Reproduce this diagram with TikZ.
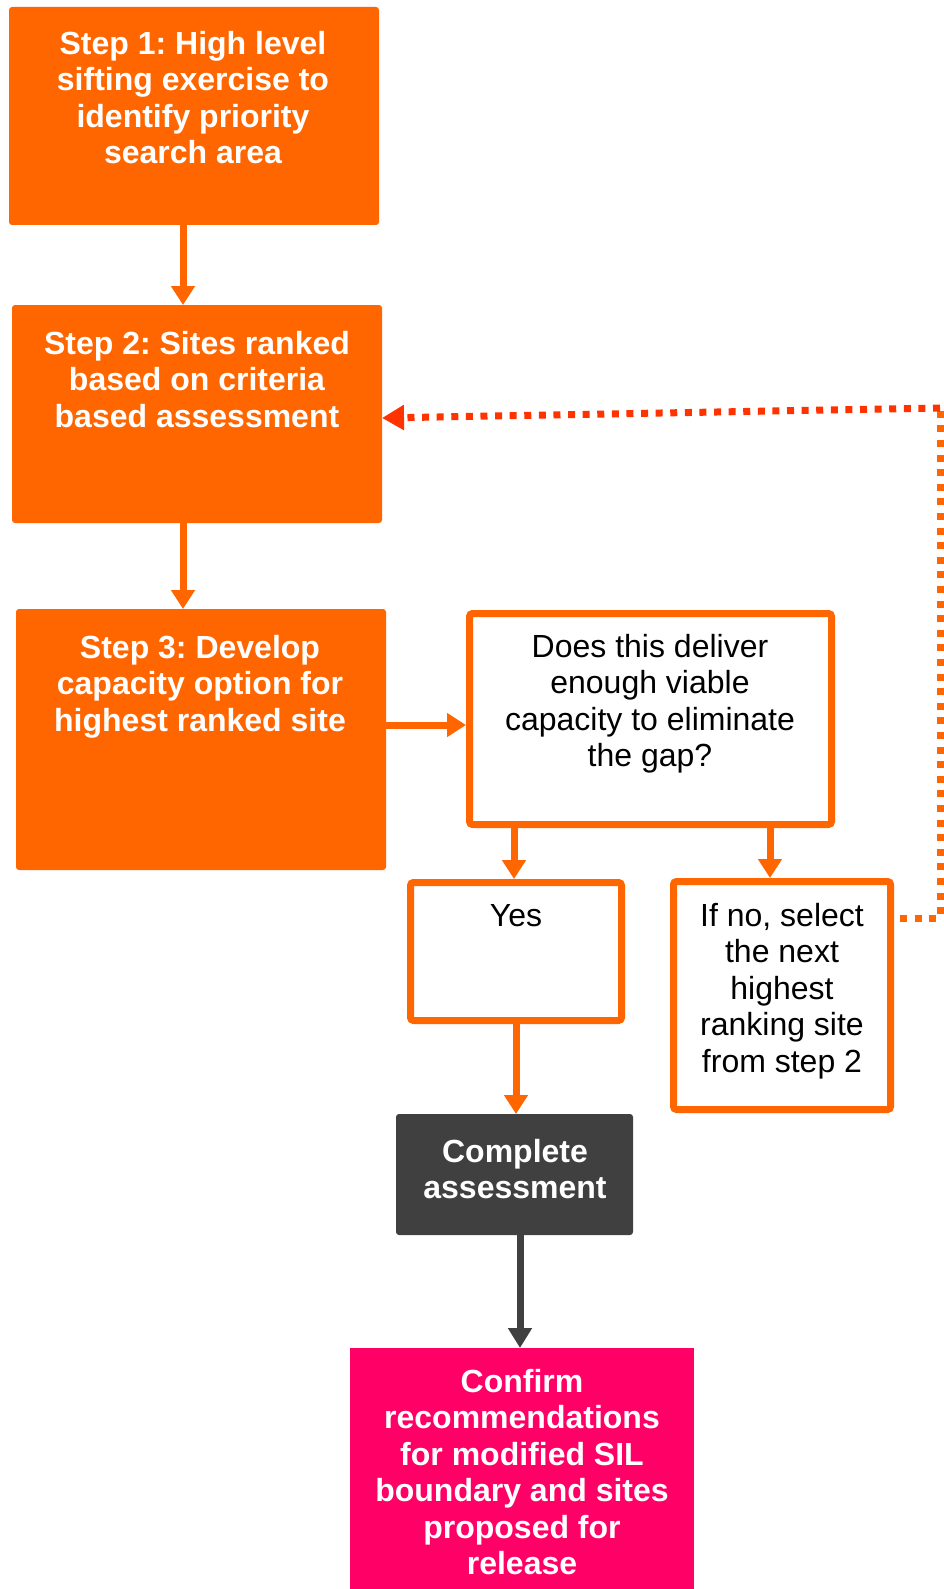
\documentclass[tikz,border=0pt]{standalone}
\usepackage{fontspec}
\setmainfont{Liberation Sans}
\usetikzlibrary{arrows.meta}
\frenchspacing
\definecolor{orng}{HTML}{FF6600}
\definecolor{dotred}{HTML}{FF3300}
\definecolor{darkbox}{HTML}{404040}
\definecolor{pinkbox}{HTML}{FF0066}
\tikzset{
  fillbox/.style={rectangle, rounded corners=3pt, draw=none, inner sep=0pt, outer sep=0pt},
  linebox/.style={rectangle, rounded corners=3pt, draw=orng, line width=7pt, fill=white, inner sep=0pt},
  boldtxt/.style={inner sep=0pt, align=center, text=white, font=\fontsize{32}{36.5}\selectfont\bfseries, anchor=north},
  plaintxt/.style={inner sep=0pt, align=center, text=black, font=\fontsize{32}{36.5}\selectfont, anchor=north},
  arr/.style={line width=7pt, draw=orng, -{Triangle[width=23pt,length=19pt]}},
  darr/.style={line width=7pt, draw=darkbox, -{Triangle[width=23pt,length=20pt]}},
  dotline/.style={line width=7pt, dash pattern=on 7pt off 7.6pt}
}
\begin{document}
\begin{tikzpicture}[x=1pt,y=-1pt]
\useasboundingbox (0,0) rectangle (943,1589);
\fill[white] (0,0) rectangle (943,1589);

% boxes
\node[fillbox, fill=orng, minimum width=370pt, minimum height=218pt] (b1) at (194,116) {};
\node[fillbox, fill=orng, minimum width=370pt, minimum height=218pt] (b2) at (197,414) {};
\node[fillbox, fill=orng, minimum width=370pt, minimum height=261pt] (b3) at (201,739.5) {};
\node[linebox, minimum width=362pt, minimum height=211pt] (q) at (650.5,719) {};
\node[linebox, minimum width=211pt, minimum height=138pt] (yes) at (516,951.5) {};
\node[linebox, minimum width=217pt, minimum height=228pt] (ifno) at (782,995.5) {};
\node[fillbox, fill=darkbox, minimum width=237pt, minimum height=121pt] (comp) at (514.5,1174.5) {};
\node[rectangle, draw=none, inner sep=0pt, outer sep=0pt, fill=pinkbox, minimum width=344pt, minimum height=246pt] (conf) at (522,1471) {};

% texts
\node[boldtxt] (b1t) at (193,31) {Step 1: High level\\sifting exercise to\\identify priority\\search area};
\node[boldtxt] (b2t) at (197,331) {Step 2: Sites ranked\\based on criteria\\based assessment};
\node[boldtxt] (b3t) at (200,635) {Step 3: Develop\\capacity option for\\highest ranked site};
\node[plaintxt] (qt) at (650,634) {Does this deliver\\enough viable\\capacity to eliminate\\the gap?};
\node[plaintxt] (yest) at (516,904) {Yes};
\node[plaintxt] (ifnot) at (782,903) {If no, select\\the next\\highest\\ranking site\\from step 2};
\node[boldtxt] (compt) at (515,1139) {Complete\\assessment};
\node[boldtxt] (conft) at (522,1369) {Confirm\\recommendations\\for modified SIL\\boundary and sites\\proposed for\\release};

% connectors
\coordinate (x1) at (183,0);
\coordinate (y3) at (0,725);
\coordinate (x4) at (514,0);
\coordinate (x5) at (770,0);
\coordinate (x6) at (516,0);
\coordinate (x7) at (520,0);
\coordinate (y8) at (0,918);
\coordinate (cbr) at (940,918);
\coordinate (ctr) at (940,408);
\coordinate (y9) at (0,418);

\draw[arr] (x1 |- b1.south) -- (x1 |- b2.north);
\draw[arr] (x1 |- b2.south) -- (x1 |- b3.north);
\draw[arr] (y3 -| b3.east) -- (y3 -| q.west);
\draw[arr] (x4 |- q.south) -- (x4 |- yes.north);
\draw[arr] (x5 |- q.south) -- (x5 |- ifno.north);
\draw[arr] (x6 |- yes.south) -- (x6 |- comp.north);
\draw[darr] (x7 |- comp.south) -- (x7 |- conf.north);

\draw[dotline, draw=orng] ([xshift=6pt]y8 -| ifno.east) -- (cbr) -- (ctr);
\draw[dotline, draw=dotred, -{Triangle[width=24pt,length=22pt]}] (ctr) -- (y9 -| b2.east);
\end{tikzpicture}
\end{document}
